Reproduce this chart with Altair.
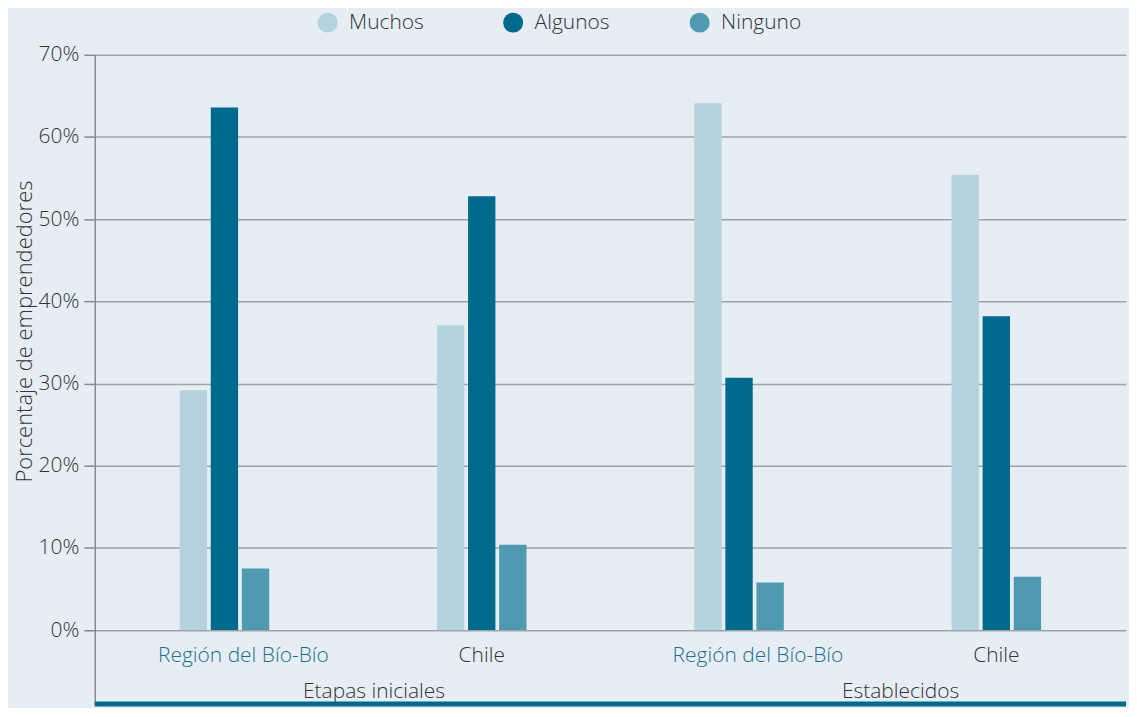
import altair as alt
import pandas as pd

# ---- data ----
stages = ["Etapas iniciales", "Etapas iniciales", "Establecidos", "Establecidos"]
regions = ["Región del Bío-Bío", "Chile", "Región del Bío-Bío", "Chile"]
series = ["Muchos", "Algunos", "Ninguno"]
muchos = [29.2, 37.1, 64.1, 55.4]
algunos = [63.6, 52.8, 30.7, 38.2]
ninguno = [7.5, 10.4, 5.8, 6.5]
y_ticks = [0, 10, 20, 30, 40, 50, 60, 70]
colors = ["#b4d3de", "#006a8d", "#4f99b1"]

FONT = "Open Sans"
FS = 21
TXT = "#333333"
BLUE_TXT = "#1d6f8f"
BG = "#e6eef4"

keys = [f"{s}|{r}" for s, r in zip(stages, regions)]
rows = []
for i, k in enumerate(keys):
    for s, vals in zip(series, [muchos, algunos, ninguno]):
        rows.append({"key": k, "stage": stages[i], "region": regions[i],
                     "serie": s, "value": vals[i]})
df = pd.DataFrame(rows)
lab_df = pd.DataFrame({"key": keys, "region": regions})
bio_df = lab_df[lab_df["region"] != "Chile"]
chile_df = lab_df[lab_df["region"] == "Chile"]
st1_df = pd.DataFrame({"key": [keys[0]], "stage": [stages[0]]})
st2_df = pd.DataFrame({"key": [keys[2]], "stage": [stages[2]]})

W, H = 1034, 651
x_scale = alt.Scale(domain=keys, paddingInner=0.652, paddingOuter=0.33)
y_scale = alt.Scale(domain=[-9, 70], nice=False, zero=False)

bars = alt.Chart(df).mark_bar().encode(
    x=alt.X("key:N", sort=keys, axis=None, scale=x_scale),
    xOffset=alt.XOffset("serie:N", sort=series,
                        scale=alt.Scale(domain=series, paddingInner=0.12, paddingOuter=0)),
    y=alt.Y("value:Q", scale=y_scale,
            title="Porcentaje de emprendedores",
            axis=alt.Axis(values=y_ticks, labelExpr="datum.value + '%'",
                          labelFont=FONT, labelFontSize=FS, labelFontWeight=300,
                          labelColor=TXT, labelPadding=5,
                          tickSize=11, tickColor="#858a8e", tickWidth=1.5,
                          domainColor="#858a8e", domainWidth=1.5,
                          grid=True, gridColor="#9ea3a6", gridWidth=1.5,
                          titleFont=FONT, titleFontSize=22, titleFontWeight=300,
                          titleColor=TXT, titlePadding=2, titleY=277)),
    y2=alt.datum(0),
    color=alt.Color("serie:N", sort=series,
                    scale=alt.Scale(domain=series, range=colors),
                    legend=alt.Legend(title=None, orient="none", direction="horizontal",
                                      legendX=223, legendY=-43,
                                      symbolType="circle", symbolSize=400,
                                      symbolStrokeWidth=0, symbolOpacity=1,
                                      labelFont=FONT, labelFontSize=FS,
                                      labelFontWeight=300, labelColor=TXT,
                                      labelOffset=11, columnPadding=79)),
)

bio_lab = alt.Chart(bio_df).mark_text(
    font=FONT, fontSize=FS, fontWeight=300, color=BLUE_TXT,
    baseline="middle", align="center", dx=19
).encode(x=alt.X("key:N", sort=keys), y=alt.datum(-3.2), text="region:N")

chile_lab = alt.Chart(chile_df).mark_text(
    font=FONT, fontSize=FS, fontWeight=300, color=TXT,
    baseline="middle", align="center", dx=0
).encode(x=alt.X("key:N", sort=keys), y=alt.datum(-3.2), text="region:N")

st1 = alt.Chart(st1_df).mark_text(
    font=FONT, fontSize=FS, fontWeight=300, color=TXT,
    baseline="middle", align="center", dx=150
).encode(x=alt.X("key:N", sort=keys), y=alt.datum(-7.5), text="stage:N")

st2 = alt.Chart(st2_df).mark_text(
    font=FONT, fontSize=FS, fontWeight=300, color=TXT,
    baseline="middle", align="center", dx=162
).encode(x=alt.X("key:N", sort=keys), y=alt.datum(-7.5), text="stage:N")

bottom = alt.Chart(pd.DataFrame({"v": [-9]})).mark_rule(
    color="#006a8d", strokeWidth=5
).encode(y=alt.Y("v:Q"))

chart = alt.layer(bars, bio_lab, chile_lab, st1, st2, bottom).properties(
    width=W, height=H,
    padding={"left": 5, "top": 3, "right": 0, "bottom": 0},
    background=BG,
).configure_view(stroke=None)

chart.save("out.html", embed_options={"renderer": "svg", "actions": False})
